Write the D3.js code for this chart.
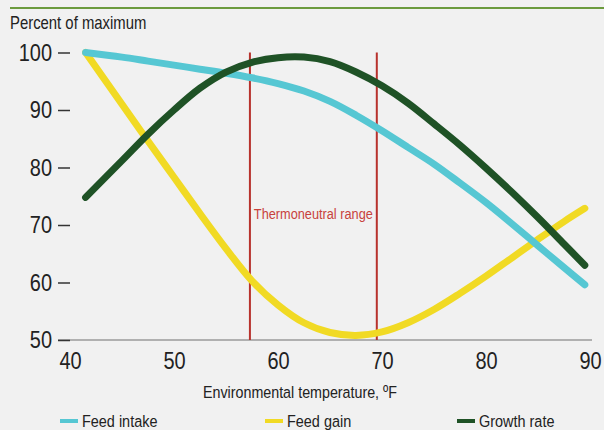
<!DOCTYPE html>
<html>
<head>
<meta charset="utf-8">
<script src="https://cdn.jsdelivr.net/npm/d3@7"></script>
<style>
  html, body { margin: 0; padding: 0; background: #f1f1f1; }
  svg { display: block; font-family: "Liberation Sans", Arial, sans-serif; }
</style>
</head>
<body>
<div id="chart"></div>
<script>
// values
var temps       = [41.5, 45, 47.5, 50, 52.5, 55, 57.5, 60, 62.5, 65, 67.5, 70, 72.5, 75, 77.5, 80, 82.5, 85, 87.5, 89.5];
var feedIntake  = [100, 99.2, 98.5, 97.8, 97.1, 96.4, 95.6, 94.6, 93.3, 91.5, 89.1, 86.4, 83.5, 80.6, 77.3, 73.9, 70.2, 66.4, 62.6, 59.6];
var feedGain    = [100, 91.0, 84.6, 78.3, 72.0, 65.9, 60.3, 56.1, 53.0, 51.3, 50.8, 51.4, 53.0, 55.3, 58.1, 61.1, 64.3, 67.5, 70.6, 72.9];
var growthRate  = [74.8, 81.2, 85.8, 90.0, 93.8, 96.6, 98.3, 99.1, 99.2, 98.4, 96.6, 94.2, 91.2, 87.6, 83.9, 79.9, 75.7, 71.3, 66.7, 63.0];
var seriesNames = ['Feed intake', 'Feed gain', 'Growth rate'];
var seriesColors = ['#56c7d3', '#f1da24', '#1f5226'];
var xTicks = [40, 50, 60, 70, 80, 90];
var yTicks = [50, 60, 70, 80, 90, 100];
var thermoRange = [57.3, 69.5];

var width = 604, height = 430;
var squeeze = 0.85;   // the picture uses a condensed face

// squeeze text horizontally around its own x anchor
function condense(sel) {
  sel.attr('transform', function() {
    var ax = +d3.select(this).attr('x') || 0;
    return 'translate(' + ax + ',0) scale(' + squeeze + ',1) translate(' + (-ax) + ',0)';
  });
}

var svg = d3.select('#chart').append('svg')
  .attr('width', width)
  .attr('height', height);

var x = d3.scaleLinear().domain([40, 90]).range([70, 590]);
var y = d3.scaleLinear().domain([50, 100]).range([340, 52.5]);

// green rule on top
svg.append('line')
  .attr('x1', 10).attr('x2', width)
  .attr('y1', 8).attr('y2', 8)
  .attr('stroke', '#6c9b3e').attr('stroke-width', 2);

svg.append('text')
  .attr('x', 10).attr('y', 29)
  .attr('font-size', 17.5)
  .attr('fill', '#222')
  .text('Percent of maximum')
  .call(condense);

// x axis
svg.append('line')
  .attr('x1', x(40) - 12).attr('x2', x(90) + 2)
  .attr('y1', y(50)).attr('y2', y(50))
  .attr('stroke', '#9a9a9a').attr('stroke-width', 1.5);

var xAxis = svg.append('g')
  .attr('transform', 'translate(0,' + y(50) + ')')
  .call(d3.axisBottom(x).tickValues(xTicks).tickSize(0).tickPadding(12));
xAxis.select('.domain').remove();
xAxis.selectAll('text').attr('font-size', 23.5).attr('fill', '#222').attr('font-family', null).call(condense);

// y axis
var yAxis = svg.append('g')
  .attr('transform', 'translate(' + x(40) + ',0)')
  .call(d3.axisLeft(y).tickValues(yTicks).tickSize(12).tickPadding(6));
yAxis.select('.domain').remove();
yAxis.selectAll('line').attr('stroke', '#333').attr('stroke-width', 1.5);
yAxis.selectAll('text').attr('font-size', 23.5).attr('fill', '#222').attr('font-family', null).call(condense);

// thermoneutral range
svg.selectAll('.thermo')
  .data(thermoRange)
  .enter()
  .append('line')
  .attr('class', 'thermo')
  .attr('x1', function(d) { return x(d); })
  .attr('x2', function(d) { return x(d); })
  .attr('y1', y(100)).attr('y2', y(50))
  .attr('stroke', '#b8322d').attr('stroke-width', 2);

svg.append('text')
  .attr('x', (x(thermoRange[0]) + x(thermoRange[1])) / 2)
  .attr('y', 219)
  .attr('text-anchor', 'middle')
  .attr('font-size', 15)
  .attr('fill', '#c8423c')
  .text('Thermoneutral range')
  .call(condense);

// curves
var seriesData = [feedIntake, feedGain, growthRate];

var line = d3.line()
  .x(function(d, i) { return x(temps[i]); })
  .y(function(d) { return y(d); })
  .curve(d3.curveCatmullRom.alpha(0.5));

// yellow first, then blue, green on top
[1, 0, 2].forEach(function(k) {
  svg.append('path')
    .datum(seriesData[k])
    .attr('d', line)
    .attr('fill', 'none')
    .attr('stroke', seriesColors[k])
    .attr('stroke-width', 7)
    .attr('stroke-linecap', 'round')
    .attr('stroke-linejoin', 'round');
});

// x axis title
svg.append('text')
  .attr('x', 300).attr('y', 398)
  .attr('text-anchor', 'middle')
  .attr('font-size', 16.8)
  .attr('fill', '#222')
  .text('Environmental temperature, ºF')
  .call(condense);

// legend
var legendX = [60, 265, 457];
var legend = svg.selectAll('.legend')
  .data(seriesNames)
  .enter()
  .append('g')
  .attr('class', 'legend')
  .attr('transform', function(d, i) { return 'translate(' + legendX[i] + ',421)'; });

legend.append('line')
  .attr('x1', 0).attr('x2', 18)
  .attr('y1', 0).attr('y2', 0)
  .attr('stroke', function(d, i) { return seriesColors[i]; })
  .attr('stroke-width', 4);

legend.append('text')
  .attr('x', 22).attr('y', 6)
  .attr('font-size', 17)
  .attr('fill', '#222')
  .text(function(d) { return d; })
  .call(condense);
</script>
</body>
</html>
